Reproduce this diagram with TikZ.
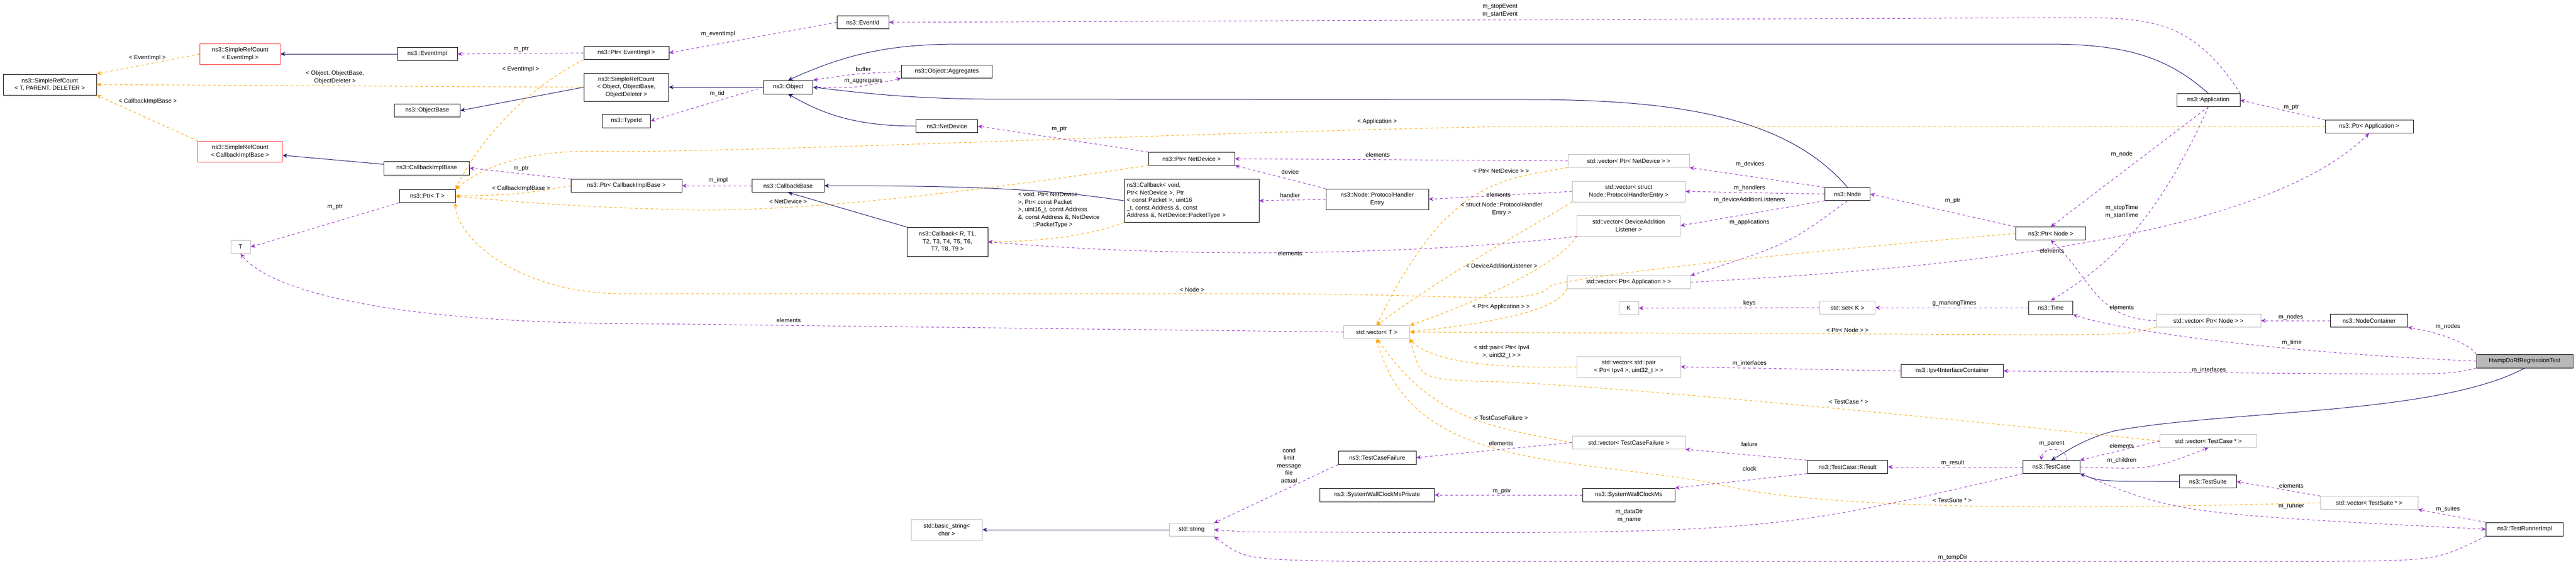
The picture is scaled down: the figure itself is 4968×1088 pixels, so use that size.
\documentclass[tikz,border=0pt]{standalone}
\usepackage{fontspec}
\setmainfont{Liberation Sans}
\usetikzlibrary{arrows.meta,calc}
\definecolor{inhc}{HTML}{191970}
\definecolor{usec}{HTML}{9A32CD}
\definecolor{tplc}{HTML}{FFA500}
\begin{document}
\begin{tikzpicture}[x=1pt,y=-1pt,
  every node/.style={font=\fontsize{11.5}{14.5}\selectfont, inner sep=1pt},
  cls/.style={draw=black, line width=0.9pt, fill=white, align=center},
  gcls/.style={draw=gray!55, line width=0.9pt, fill=white, align=center},
  rcls/.style={draw=red!80, line width=0.9pt, fill=white, align=center},
  lbl/.style={align=center},
  tip/.style={-{Stealth[length=9pt,width=8pt]}},
  inh/.style={tip, draw=inhc, line width=1pt},
  use/.style={tip, draw=usec, line width=1pt, dash pattern=on 5pt off 5pt},
  tpl/.style={tip, draw=tplc, line width=1pt, dash pattern=on 5pt off 5pt}]
\useasboundingbox (0,0) rectangle (4968,1088);
\newcommand{\cls}[7]{\node[#6, minimum width=#4pt, minimum height=#5pt] (#1) at (#2,#3) {#7};}
% nodes
\cls{srcT}{96}{163}{180}{40}{cls}{ns3::SimpleRefCount\\< T, PARENT, DELETER >}
\cls{srcEI}{463}{104}{155}{40}{rcls}{ns3::SimpleRefCount\\< EventImpl >}
\cls{eventImpl}{824}{104}{116}{25}{cls}{ns3::EventImpl}
\cls{objBase}{824}{213}{127}{25}{cls}{ns3::ObjectBase}
\cls{srcCIB}{463}{292}{163}{40}{rcls}{ns3::SimpleRefCount\\< CallbackImplBase >}
\cls{cib}{823}{324}{165}{26}{cls}{ns3::CallbackImplBase}
\cls{ptrT}{824}{378}{108}{25}{cls}{ns3::Ptr< T >}
\cls{T}{464}{476}{38}{25}{gcls}{T}
\cls{eventId}{1664}{43}{100}{25}{cls}{ns3::EventId}
\cls{ptrEI}{1208}{102}{164}{25}{cls}{ns3::Ptr< EventImpl >}
\cls{srcObj}{1208}{168}{163}{54}{cls}{ns3::SimpleRefCount\\< Object, ObjectBase,\\ObjectDeleter >}
\cls{typeId}{1208}{233}{93}{26}{cls}{ns3::TypeId}
\cls{object}{1520}{168}{95}{26}{cls}{ns3::Object}
\cls{aggr}{1826}{138}{175}{25}{cls}{ns3::Object::Aggregates}
\cls{netDev}{1826}{243}{119}{25}{cls}{ns3::NetDevice}
\cls{ptrCIB}{1208}{358}{214}{25}{cls}{ns3::Ptr< CallbackImplBase >}
\cls{cbBase}{1520}{358}{139}{25}{cls}{ns3::CallbackBase}
\cls{cbR}{1827}{466}{156}{56}{cls}{ns3::Callback< R, T1,\\ T2, T3, T4, T5, T6,\\ T7, T8, T9 >}
\cls{ptrND}{2298}{306}{166}{25}{cls}{ns3::Ptr< NetDevice >}
\node[cls, align=left, minimum width=260pt, minimum height=83pt, text width=250pt] (cbVoid) at (2298,387) {ns3::Callback< void,\\ Ptr< NetDevice >, Ptr\\< const Packet >, uint16\\\_t, const Address \&, const\\ Address \&, NetDevice::PacketType >};
\cls{phe}{2656}{384}{198}{40}{cls}{ns3::Node::ProtocolHandler\\Entry}
\cls{vPND}{3141}{310}{234}{25}{gcls}{std::vector< Ptr< NetDevice > >}
\cls{vPHE}{3141}{369}{218}{40}{gcls}{std::vector< struct\\ Node::ProtocolHandlerEntry >}
\cls{vDAL}{3141}{435}{199}{40}{gcls}{std::vector< DeviceAddition\\Listener >}
\cls{vPA}{3141}{544}{238}{25}{gcls}{std::vector< Ptr< Application > >}
\cls{node}{3563}{374}{87}{25}{cls}{ns3::Node}
\cls{ptrNode}{3955}{450}{135}{25}{cls}{ns3::Ptr< Node >}
\cls{app}{4259}{193}{122}{25}{cls}{ns3::Application}
\cls{ptrApp}{4569}{244}{170}{25}{cls}{ns3::Ptr< Application >}
\cls{str}{2298}{1021}{86}{25}{gcls}{std::string}
\cls{bstr}{1826}{1021}{137}{40}{gcls}{std::basic\_string<\\char >}
\cls{vecT}{2655}{640}{127}{25}{gcls}{std::vector< T >}
\cls{K}{3141}{594}{38}{25}{gcls}{K}
\cls{setK}{3563}{593}{107}{25}{gcls}{std::set< K >}
\cls{vPair}{3141}{707}{200}{40}{gcls}{std::vector< std::pair\\< Ptr< Ipv4 >, uint32\_t > >}
\cls{ipv4}{3765}{715}{197}{25}{cls}{ns3::Ipv4InterfaceContainer}
\cls{vTCF}{3141}{853}{218}{25}{gcls}{std::vector< TestCaseFailure >}
\cls{tcf}{2656}{882}{150}{26}{cls}{ns3::TestCaseFailure}
\cls{swcmp}{2656}{954}{221}{26}{cls}{ns3::SystemWallClockMsPrivate}
\cls{swcm}{3141}{954}{178}{26}{cls}{ns3::SystemWallClockMs}
\cls{tcres}{3563}{900}{155}{25}{cls}{ns3::TestCase::Result}
\cls{time}{3955}{593}{85}{26}{cls}{ns3::Time}
\cls{vPN}{4259}{618}{202}{25}{gcls}{std::vector< Ptr< Node > >}
\cls{nc}{4569}{618}{149}{25}{cls}{ns3::NodeContainer}
\cls{hwmp}{4869}{696}{186}{26}{cls,fill=gray!55}{HwmpDoRfRegressionTest}
\cls{tc}{3956}{900}{110}{25}{cls}{ns3::TestCase}
\cls{vTC}{4259}{850}{187}{25}{gcls}{std::vector< TestCase * >}
\cls{ts}{4258}{928}{110}{25}{cls}{ns3::TestSuite}
\cls{vTS}{4569}{969}{188}{25}{gcls}{std::vector< TestSuite * >}
\cls{tri}{4869}{1020}{149}{26}{cls}{ns3::TestRunnerImpl}
% inheritance
\draw[inh] (eventImpl) -- (srcEI);
\draw[inh] (cib) -- (srcCIB);
\draw[inh] (object) -- (srcObj);
\draw[inh] (srcObj.west) -- (objBase.east);
\draw[inh] (netDev.west) .. controls (1640,243) and (1580,215) .. (object.south);
\draw[inh] (app.north) .. controls (4180,110) and (4100,85) .. (3950,85) -- (1850,85) .. controls (1700,85) and (1620,110) .. (object.north);
\draw[inh] (node.north) .. controls (3450,230) and (3250,192) .. (2950,192) -- (1900,191) .. controls (1750,190) and (1650,178) .. (object.east);
\draw[inh] (cbR.north west) -- (cbBase.south);
\draw[inh] (cbVoid.west) .. controls (2000,360) and (1800,358) .. (cbBase.east);
\draw[inh] (hwmp.south) .. controls (4700,800) and (4300,790) .. (4080,830) .. controls (4020,845) and (3985,870) .. (tc.north);
\draw[inh] (ts.west) .. controls (4050,928) .. (tc.south east);
\draw[inh] (str) -- (bstr);
% templates
\draw[tpl] (srcEI.west) -- (srcT.north east);
\draw[tpl] (srcObj.west) -- (srcT.east);
\draw[tpl] (srcCIB.north west) -- (srcT.south east);
\draw[tpl] (ptrEI.south west) .. controls (1000,180) and (920,280) .. (ptrT.north east);
\draw[tpl] (ptrCIB.west) .. controls (1000,375) .. (ptrT.east);
\draw[tpl] (ptrND.south west) .. controls (1800,380) and (1550,405) .. (1350,405) .. controls (1100,400) and (950,385) .. (ptrT.east);
\draw[tpl] (ptrApp.west) -- (2900,244) .. controls (2300,255) and (1500,292) .. (1180,292) .. controls (1000,285) and (920,330) .. (ptrT.north east);
\draw[tpl] (ptrNode.west) .. controls (3300,500) and (3000,540) .. (2990,552) .. controls (2950,590) and (2850,566) .. (2400,566) -- (1190,566) .. controls (1000,562) and (880,460) .. (ptrT.south east);
\draw[tpl] (cbVoid.south west) .. controls (2100,455) and (2000,466) .. (cbR.east);
\draw[tpl] (vPND.south west) .. controls (2900,345) and (2790,345) .. (vecT.north);
\draw[tpl] (vPHE.south west) .. controls (2950,440) and (2800,520) .. (vecT.north);
\draw[tpl] (vDAL.south west) .. controls (3000,520) and (2800,600) .. (vecT.north east);
\draw[tpl] (vPA.south west) .. controls (3000,610) and (2800,630) .. (vecT.east);
\draw[tpl] (vPN.south west) .. controls (4100,645) .. (3900,645) -- (vecT.east);
\draw[tpl] (vPair.west) .. controls (2850,712) and (2750,690) .. (vecT.south east);
\draw[tpl] (vTC.west) .. controls (3600,790) and (3000,735) .. (2850,735) .. controls (2740,730) .. (vecT.south east);
\draw[tpl] (vTCF.west) .. controls (2850,820) and (2760,800) .. (vecT.south);
\draw[tpl] (vTS.west) .. controls (4000,982) and (3500,985) .. (3300,930) .. controls (3000,880) and (2720,900) .. (vecT.south);
% usage
\draw[use] (ptrEI.west) -- (eventImpl.east);
\draw[use] (eventId.west) -- (ptrEI.east);
\draw[use] (app.north east) .. controls (4230,40) and (4150,34) .. (4000,34) -- (eventId.east);
\draw[use] (object.west) -- (typeId.east);
\draw[use] (aggr.west) .. controls (1650,142) .. (object.north east);
\draw[use] (object.east) .. controls (1650,170) .. (aggr.south west);
\draw[use] (ptrND.north west) -- (netDev.east);
\draw[use] (ptrCIB.north west) -- (cib.east);
\draw[use] (cbBase.west) -- (ptrCIB.east);
\draw[use] (ptrT.south west) -- (T.east);
\draw[use] (vecT.west) -- (1250,624) .. controls (750,624) and (520,560) .. (T.south);
\draw[use] (vPND.west) -- (ptrND.east);
\draw[use] (phe.north west) -- (ptrND.south east);
\draw[use] (phe.west) -- (cbVoid.east);
\draw[use] (vPHE.west) -- (phe.east);
\draw[use] (vDAL.south west) .. controls (2750,490) and (2300,500) .. (cbR.east);
\draw[use] (node.north west) -- (vPND.south east);
\draw[use] (node.west) -- (vPHE.east);
\draw[use] (node.south west) -- (vDAL.east);
\draw[use] (node.south) .. controls (3450,470) .. (vPA.north east);
\draw[use] (ptrNode.north west) -- (node.east);
\draw[use] (ptrApp.north west) -- (app.east);
\draw[use] (app.south) -- (ptrNode.north);
\draw[use] (app.south) .. controls (4150,450) and (4050,520) .. (time.north);
\draw[use] (vPA.east) .. controls (3700,520) and (4350,470) .. (ptrApp.south);
\draw[use] (vPN.west) .. controls (4040,615) and (4030,530) .. (ptrNode.south);
\draw[use] (setK.west) -- (K.east);
\draw[use] (time.west) -- (setK.east);
\draw[use] (nc.west) -- (vPN.east);
\draw[use] (hwmp.north west) .. controls (4760,660) and (4700,640) .. (nc.south east);
\draw[use] (hwmp.west) .. controls (4400,680) and (4100,640) .. (time.south east);
\draw[use] (hwmp.south west) .. controls (4730,720) .. (4600,721) -- (ipv4.east);
\draw[use] (ipv4.west) -- (vPair.east);
\draw[use] (vTCF.west) -- (tcf.east);
\draw[use] (tcres.north west) -- (vTCF.south east);
\draw[use] (tcres.south west) -- (swcm.north east);
\draw[use] (swcm.west) -- (swcmp.east);
\draw[use] (tc.west) -- (tcres.east);
\draw[use] (tcf.south west) -- (str.north east);
\draw[use] (tc.south west) .. controls (3400,1030) .. (2400,1025) -- (str.east);
\draw[use] (tri.south west) .. controls (4700,1080) .. (4500,1082) -- (2600,1082) .. controls (2400,1078) .. (str.south east);
\draw[use] ([xshift=30pt]tc.north) .. controls (3986,860) and (3940,860) .. ([xshift=-20pt]tc.north);
\draw[use] (vTC.west) -- (tc.north east);
\draw[use] (tc.east) .. controls (4150,905) .. (vTC.south);
\draw[use] (vTS.north west) -- (ts.east);
\draw[use] (tri.north west) -- (vTS.south east);
\draw[use] (tc.south east) .. controls (4200,990) .. (tri.west);
% labels
\node[lbl] (l1) at (284,112) {< EventImpl >};
\node[lbl] (l2) at (646,149) {< Object, ObjectBase,\\ObjectDeleter >};
\node[lbl] (l3) at (285,196) {< CallbackImplBase >};
\node[lbl] (l4) at (646,399) {m\_ptr};
\node[lbl] (l5) at (1385,66) {m\_eventImpl};
\node[lbl] (l6) at (1005,95) {m\_ptr};
\node[lbl] (l7) at (1004,134) {< EventImpl >};
\node[lbl] (l8) at (1665,133) {buffer};
\node[lbl] (l9) at (1665,156) {m\_aggregates};
\node[lbl] (l10) at (1383,180) {m\_tid};
\node[lbl] (l11) at (1005,325) {m\_ptr};
\node[lbl] (l12) at (1005,364) {< CallbackImplBase >};
\node[lbl] (l13) at (1385,348) {m\_impl};
\node[lbl] (l14) at (1520,388) {< NetDevice >};
\node[lbl] (l15) at (2893,20) {m\_stopEvent\\m\_startEvent};
\node[lbl] (l16) at (2656,235) {< Application >};
\node[lbl] (l17) at (2043,249) {m\_ptr};
\node[lbl] (l18) at (2657,298) {elements};
\node[lbl] (l19) at (2488,331) {device};
\node[lbl] (l20) at (2895,329) {< Ptr< NetDevice > >};
\node[lbl] (l21) at (2488,376) {handler};
\node[lbl] (l22) at (2890,375) {elements};
\node[lbl] (l23) at (2896,403) {< struct Node::ProtocolHandler\\Entry >};
\node[lbl, align=left] (l24) at (2042,405) {< void, Ptr< NetDevice\\>, Ptr< const Packet\\>, uint16\_t, const Address\\\&, const Address \&, NetDevice\\\hspace*{2.5em}::PacketType >};
\node[lbl] (l25) at (2488,488) {elements};
\node[lbl] (l26) at (2896,512) {< DeviceAdditionListener >};
\node[lbl] (l27) at (3375,316) {m\_devices};
\node[lbl] (l28) at (3374,362) {m\_handlers};
\node[lbl] (l29) at (3374,385) {m\_deviceAdditionListeners};
\node[lbl] (l30) at (3374,429) {m\_applications};
\node[lbl] (l31) at (3766,387) {m\_ptr};
\node[lbl] (l32) at (4419,207) {m\_ptr};
\node[lbl] (l33) at (4092,297) {m\_node};
\node[lbl] (l34) at (4092,408) {m\_stopTime\\m\_startTime};
\node[lbl] (l35) at (3957,483) {elements};
\node[lbl] (l36) at (2299,558) {< Node >};
\node[lbl] (l37) at (1521,617) {elements};
\node[lbl] (l38) at (2895,592) {< Ptr< Application > >};
\node[lbl] (l39) at (3374,585) {keys};
\node[lbl] (l40) at (3563,636) {< Ptr< Node > >};
\node[lbl] (l41) at (2896,678) {< std::pair< Ptr< Ipv4\\>, uint32\_t > >};
\node[lbl] (l42) at (3374,700) {m\_interfaces};
\node[lbl] (l43) at (3565,775) {< TestCase * >};
\node[lbl] (l44) at (2895,805) {< TestCaseFailure >};
\node[lbl] (l45) at (2895,854) {elements};
\node[lbl] (l46) at (3374,856) {failure};
\node[lbl] (l47) at (3374,903) {clock};
\node[lbl] (l48) at (2486,897) {cond\\limit\\message\\file\\actual};
\node[lbl] (l49) at (2896,947) {m\_priv};
\node[lbl] (l50) at (3142,994) {m\_dataDir\\m\_name};
\node[lbl] (l51) at (3769,585) {g\_markingTimes};
\node[lbl] (l52) at (4092,592) {elements};
\node[lbl] (l53) at (4418,611) {m\_nodes};
\node[lbl] (l54) at (4721,629) {m\_nodes};
\node[lbl] (l55) at (4420,660) {m\_time};
\node[lbl] (l56) at (4260,713) {m\_interfaces};
\node[lbl] (l57) at (3957,855) {m\_parent};
\node[lbl] (l58) at (4092,859) {elements};
\node[lbl] (l59) at (4092,887) {m\_children};
\node[lbl] (l60) at (3766,892) {m\_result};
\node[lbl] (l61) at (3765,964) {< TestSuite * >};
\node[lbl] (l62) at (4419,936) {elements};
\node[lbl] (l63) at (4419,977) {m\_runner};
\node[lbl] (l64) at (4721,981) {m\_suites};
\node[lbl] (l65) at (3766,1075) {m\_tempDir};
\end{tikzpicture}
\end{document}
